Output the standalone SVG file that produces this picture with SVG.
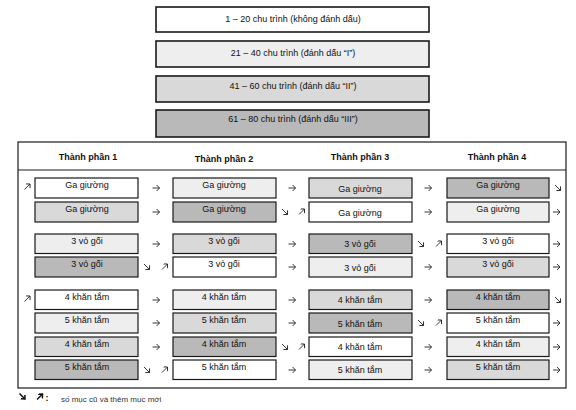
<svg xmlns="http://www.w3.org/2000/svg" width="576" height="410" viewBox="0 0 576 410">
<style>
text{font-family:"Liberation Sans",Arial,sans-serif;font-size:9px;fill:#111;text-anchor:middle}
.h{font-weight:bold}
.b{stroke:#1a1a1a;stroke-width:1.2}
.top{stroke:#1a1a1a;stroke-width:1.6}
.w{fill:#ffffff}.v{fill:#eeeeee}.l{fill:#d9d9d9}.m{fill:#b9b9b9}
.a{fill:none;stroke:#222;stroke-width:0.9;marker-end:url(#ah)}
.lg{fill:none;stroke:#111;stroke-width:1.5;marker-end:url(#ahb)}
</style>
<defs>
<marker id="ah" markerUnits="userSpaceOnUse" markerWidth="6" markerHeight="8" refX="3.2" refY="3" orient="auto"><path d="M0.3,0 L3.2,3 L0.3,6" fill="none" stroke="#222" stroke-width="0.9"/></marker>
<marker id="ahb" markerUnits="userSpaceOnUse" markerWidth="6" markerHeight="8" refX="3.2" refY="3" orient="auto"><path d="M0,0 L3.2,3 L0,6" fill="none" stroke="#111" stroke-width="1.5"/></marker>
</defs>
<rect width="576" height="410" fill="#ffffff"/>
<g id="legend-top">
<g id="k1"><rect class="top w" x="156" y="7" width="273" height="25"/><text x="293" y="22">1 – 20 chu trình (không đánh dấu)</text></g>
<g id="k2"><rect class="top v" x="156" y="41" width="273" height="26"/><text x="293" y="56">21 – 40 chu trình (đánh dấu “I”)</text></g>
<g id="k3"><rect class="top l" x="156" y="76" width="273" height="26"/><text x="293" y="89">41 – 60 chu trình (đánh dấu “II”)</text></g>
<g id="k4"><rect class="top m" x="156" y="110" width="273" height="27"/><text x="293" y="122">61 – 80 chu trình (đánh dấu “III”)</text></g>
</g>
<g id="table">
<rect x="18" y="142" width="548" height="246" fill="none" stroke="#1a1a1a" stroke-width="1.2"/>
<line x1="18" y1="170" x2="566" y2="170" stroke="#1a1a1a" stroke-width="1"/>
<text class="h" x="88" y="160">Thành phần 1</text>
<text class="h" x="224" y="162">Thành phần 2</text>
<text class="h" x="360" y="160">Thành phần 3</text>
<text class="h" x="497" y="160">Thành phần 4</text>
</g>
<g id="col1">
<g id="c1r1"><rect class="b w" x="35" y="178" width="103" height="20"/><text x="87" y="188">Ga giường</text></g>
<g id="c1r2"><rect class="b l" x="35" y="202" width="103" height="20"/><text x="87" y="212">Ga giường</text></g>
<g id="c1r3"><rect class="b v" x="35" y="234" width="103" height="19.5"/><text x="87" y="244">3 vỏ gối</text></g>
<g id="c1r4"><rect class="b m" x="35" y="257" width="103" height="20"/><text x="87" y="267">3 vỏ gối</text></g>
<g id="c1r5"><rect class="b w" x="35" y="290" width="103" height="19.5"/><text x="87" y="300">4 khăn tắm</text></g>
<g id="c1r6"><rect class="b v" x="35" y="313" width="103" height="20"/><text x="87" y="323">5 khăn tắm</text></g>
<g id="c1r7"><rect class="b l" x="35" y="337" width="103" height="19.5"/><text x="87" y="347">4 khăn tắm</text></g>
<g id="c1r8"><rect class="b m" x="35" y="360" width="103" height="19.5"/><text x="87" y="370">5 khăn tắm</text></g>
</g>
<g id="col2">
<g id="c2r1"><rect class="b v" x="173" y="178" width="103" height="20"/><text x="224" y="188">Ga giường</text></g>
<g id="c2r2"><rect class="b m" x="173" y="202" width="103" height="20"/><text x="224" y="212">Ga giường</text></g>
<g id="c2r3"><rect class="b l" x="173" y="234" width="103" height="19.5"/><text x="224" y="244">3 vỏ gối</text></g>
<g id="c2r4"><rect class="b w" x="173" y="257" width="103" height="20"/><text x="224" y="267">3 vỏ gối</text></g>
<g id="c2r5"><rect class="b v" x="173" y="290" width="103" height="19.5"/><text x="224" y="300">4 khăn tắm</text></g>
<g id="c2r6"><rect class="b l" x="173" y="313" width="103" height="20"/><text x="224" y="323">5 khăn tắm</text></g>
<g id="c2r7"><rect class="b m" x="173" y="337" width="103" height="19.5"/><text x="224" y="347">4 khăn tắm</text></g>
<g id="c2r8"><rect class="b w" x="173" y="360" width="103" height="19.5"/><text x="224" y="370">5 khăn tắm</text></g>
</g>
<g id="col3">
<g id="c3r1"><rect class="b l" x="309" y="178" width="103" height="20"/><text x="360" y="192">Ga giường</text></g>
<g id="c3r2"><rect class="b w" x="309" y="202" width="103" height="20"/><text x="360" y="216">Ga giường</text></g>
<g id="c3r3"><rect class="b m" x="309" y="234" width="103" height="19.5"/><text x="360" y="247">3 vỏ gối</text></g>
<g id="c3r4"><rect class="b v" x="309" y="257" width="103" height="20"/><text x="360" y="271">3 vỏ gối</text></g>
<g id="c3r5"><rect class="b l" x="309" y="290" width="103" height="19.5"/><text x="360" y="303">4 khăn tắm</text></g>
<g id="c3r6"><rect class="b m" x="309" y="313" width="103" height="20"/><text x="360" y="327">5 khăn tắm</text></g>
<g id="c3r7"><rect class="b w" x="309" y="337" width="103" height="19.5"/><text x="360" y="350">4 khăn tắm</text></g>
<g id="c3r8"><rect class="b v" x="309" y="360" width="103" height="19.5"/><text x="360" y="373">5 khăn tắm</text></g>
</g>
<g id="col4">
<g id="c4r1"><rect class="b m" x="447" y="178" width="102" height="20"/><text x="498" y="188">Ga giường</text></g>
<g id="c4r2"><rect class="b v" x="447" y="202" width="102" height="20"/><text x="498" y="212">Ga giường</text></g>
<g id="c4r3"><rect class="b w" x="447" y="234" width="102" height="19.5"/><text x="498" y="244">3 vỏ gối</text></g>
<g id="c4r4"><rect class="b l" x="447" y="257" width="102" height="20"/><text x="498" y="267">3 vỏ gối</text></g>
<g id="c4r5"><rect class="b m" x="447" y="290" width="102" height="19.5"/><text x="498" y="300">4 khăn tắm</text></g>
<g id="c4r6"><rect class="b w" x="447" y="313" width="102" height="20"/><text x="498" y="323">5 khăn tắm</text></g>
<g id="c4r7"><rect class="b v" x="447" y="337" width="102" height="19.5"/><text x="498" y="347">4 khăn tắm</text></g>
<g id="c4r8"><rect class="b l" x="447" y="360" width="102" height="19.5"/><text x="498" y="370">5 khăn tắm</text></g>
</g>
<g id="connectors">
<!-- row1 y=188 -->
<path class="a" d="M24.5,189.5 L30,184"/>
<path class="a" d="M152.5,188 H159.5"/>
<path class="a" d="M288.5,188 H295.5"/>
<path class="a" d="M424.5,188 H431.5"/>
<path class="a" d="M555,185 L560.5,190.5"/>
<!-- row2 y=212 -->
<path class="a" d="M152.5,212 H159.5"/>
<path class="a" d="M282,209 L287.5,214.5"/>
<path class="a" d="M299,214.5 L304.5,209"/>
<path class="a" d="M424.5,212 H431.5"/>
<path class="a" d="M553,212 H560"/>
<!-- row3 y=244 -->
<path class="a" d="M152.5,244 H159.5"/>
<path class="a" d="M288.5,244 H295.5"/>
<path class="a" d="M418,241 L423.5,246.5"/>
<path class="a" d="M436,246.5 L441.5,241"/>
<path class="a" d="M553,244 H560"/>
<!-- row4 y=267 -->
<path class="a" d="M144,264 L149.5,269.5"/>
<path class="a" d="M162,269.5 L167.5,264"/>
<path class="a" d="M288.5,267 H295.5"/>
<path class="a" d="M424.5,267 H431.5"/>
<path class="a" d="M553,267 H560"/>
<!-- row5 y=300 -->
<path class="a" d="M24.5,301.5 L30,296"/>
<path class="a" d="M152.5,300 H159.5"/>
<path class="a" d="M288.5,300 H295.5"/>
<path class="a" d="M424.5,300 H431.5"/>
<path class="a" d="M555,297 L560.5,302.5"/>
<!-- row6 y=323 -->
<path class="a" d="M152.5,323 H159.5"/>
<path class="a" d="M288.5,323 H295.5"/>
<path class="a" d="M418,320 L423.5,325.5"/>
<path class="a" d="M436,325.5 L441.5,320"/>
<path class="a" d="M553,323 H560"/>
<!-- row7 y=347 -->
<path class="a" d="M152.5,347 H159.5"/>
<path class="a" d="M282,344 L287.5,349.5"/>
<path class="a" d="M299,349.5 L304.5,344"/>
<path class="a" d="M424.5,347 H431.5"/>
<path class="a" d="M553,347 H560"/>
<!-- row8 y=370 -->
<path class="a" d="M144,367 L149.5,372.5"/>
<path class="a" d="M162,372.5 L167.5,367"/>
<path class="a" d="M288.5,370 H295.5"/>
<path class="a" d="M424.5,370 H431.5"/>
<path class="a" d="M553,370 H560"/>
</g>
<g id="legend-bottom">
<path class="lg" d="M19.5,393.5 L25,399"/>
<path class="lg" d="M37,399.5 L42.5,394"/>
<text x="45.5" y="401" style="font-weight:bold;text-anchor:start">:</text>
<text x="61" y="402" style="font-size:8px;text-anchor:start;fill:#333">số mục cũ và thêm mục mới</text>
</g>
</svg>
